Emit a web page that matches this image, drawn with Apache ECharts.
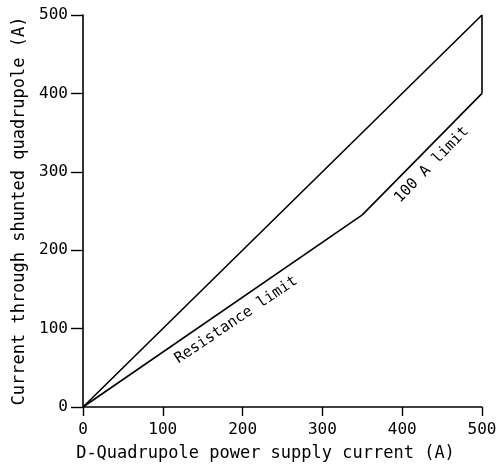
<!DOCTYPE html>
<html>
<head>
<meta charset="utf-8">
<script src="https://cdn.jsdelivr.net/npm/echarts@6/dist/echarts.min.js"></script>
<style>
html,body{margin:0;padding:0;background:#fff;}
#chart{width:500px;height:470px;}
</style>
</head>
<body>
<div id="chart"></div>
<script>
const xTicks = [0, 100, 200, 300, 400, 500];
const yTicks = [0, 100, 200, 300, 400, 500];
// upper boundary (no shunt) plus the vertical closing edge at 500 A
const upperX = [0, 500, 500];
const upperY = [0, 500, 400];
// lower boundary: resistance limit then 100 A limit
const lowerX = [0, 350, 500];
const lowerY = [0, 245, 400];
// annotation texts
const noteTexts = ['Resistance limit', '100 A limit'];
const noteX = [192, 437];
const noteY = [111, 309];
const noteAngles = [34, 46];

const FONT = 'DejaVu Sans Mono';
const chart = echarts.init(document.getElementById('chart'), null, {renderer: 'canvas'});

function pairs(xs, ys) { return xs.map((x, i) => [x, ys[i]]); }

const axisCommon = {
  type: 'value', min: xTicks[0], max: xTicks[xTicks.length - 1], interval: 100,
  axisLine: {show: true, onZero: false, lineStyle: {color: '#000', width: 1.6}},
  axisTick: {show: true, inside: false, length: 9, lineStyle: {color: '#000', width: 1.4}},
  splitLine: {show: false},
  nameLocation: 'middle',
  nameTextStyle: {fontFamily: FONT, fontSize: 17, color: '#000'}
};

chart.setOption({
  animation: false,
  backgroundColor: '#fff',
  grid: {left: 83, right: 18, top: 15, bottom: 63},
  xAxis: Object.assign({}, axisCommon, {
    name: 'D-Quadrupole power supply current (A)', nameGap: 38,
    nameTextStyle: {fontFamily: FONT, fontSize: 17, color: '#000', padding: [0, 34, 0, 0]},
    axisLabel: {fontFamily: FONT, fontSize: 16, color: '#000', margin: 15}
  }),
  yAxis: Object.assign({}, axisCommon, {
    min: yTicks[0], max: yTicks[yTicks.length - 1],
    name: 'Current through shunted quadrupole (A)', nameGap: 54,
    axisTick: {show: true, inside: false, length: 12, lineStyle: {color: '#000', width: 1.4}},
    axisLabel: {fontFamily: FONT, fontSize: 16, color: '#000', margin: 15}
  }),
  series: [
    {type: 'line', data: pairs(upperX, upperY), symbol: 'none',
     lineStyle: {color: '#000', width: 1.6}},
    {type: 'line', data: pairs(lowerX, lowerY), symbol: 'none',
     lineStyle: {color: '#000', width: 1.6}},
    {type: 'scatter', symbolSize: 1, itemStyle: {color: 'rgba(0,0,0,0)'},
     emphasis: {disabled: true},
     data: noteTexts.map((t, i) => ({
       value: [noteX[i], noteY[i]],
       label: {show: true, position: 'inside', formatter: t, rotate: noteAngles[i],
               fontFamily: FONT, fontSize: 15, color: '#000', opacity: 1,
               textBorderWidth: 0}
     }))}
  ]
});
</script>
</body>
</html>
